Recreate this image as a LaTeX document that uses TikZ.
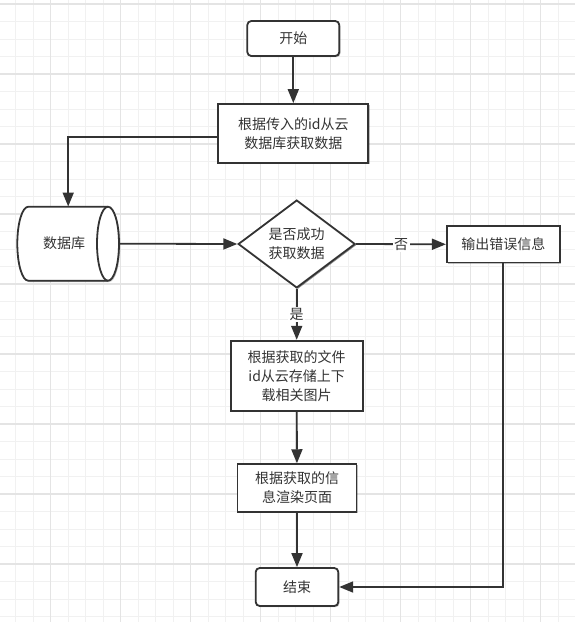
\documentclass[tikz,border=0pt]{standalone}
\usepackage{fontspec}
\setmainfont{Noto Sans CJK SC}
\usetikzlibrary{shapes.geometric,arrows.meta,shadows}
\definecolor{gridminor}{HTML}{F1F1F1}
\definecolor{gridmajor}{HTML}{E4E4E4}
\definecolor{ink}{HTML}{333333}
\tikzset{
  box/.style={draw=ink, line width=1.8pt, fill=white, inner sep=0pt, align=center,
    text=ink, font=\fontsize{14pt}{19pt}\selectfont,
    drop shadow={shadow xshift=1.2pt, shadow yshift=-1.2pt, fill=black, opacity=0.25}},
  term/.style={box, rounded corners=4pt},
  decision/.style={box, shape=diamond, drop shadow={shadow xshift=1.2pt, shadow yshift=-1.2pt, fill=black, opacity=0.25}},
  conn/.style={draw=ink, line width=1.8pt, -{Triangle[length=14pt,width=11pt]}},
  plainline/.style={draw=ink, line width=1.8pt},
  lbl/.style={fill=white, inner sep=1.5pt, text=ink, font=\fontsize{14pt}{19pt}\selectfont},
}
\begin{document}
\begin{tikzpicture}[x=1pt,y=-1pt]
\useasboundingbox (0,0) rectangle (575,622);
\fill[white] (0,0) rectangle (575,622);
% grid
\foreach \i in {0,...,33} {
  \draw[gridminor, line width=1pt] ({15.7+17.5*\i},0) -- ({15.7+17.5*\i},622);
}
\foreach \i in {0,...,35} {
  \draw[gridminor, line width=1pt] (0,{4+17.5*\i}) -- (575,{4+17.5*\i});
}
\foreach \i in {0,...,7} {
  \draw[gridmajor, line width=1.2pt] ({50.7+70*\i},0) -- ({50.7+70*\i},622);
}
\foreach \i in {0,...,8} {
  \draw[gridmajor, line width=1.2pt] (0,{4+70*\i}) -- (575,{4+70*\i});
}

% nodes
\node[term, minimum width=92pt, minimum height=35pt] (start) at (293.3,38.5) {开始};
\node[box, minimum width=150pt, minimum height=59pt] (b1) at (293.3,133.5) {根据传入的id从云\\数据库获取数据};

% database cylinder
\fill[black, opacity=0.25] (29.5,208) arc[start angle=90, end angle=270, x radius=11pt, y radius=37pt]
  -- (109.2,282) arc[start angle=270, end angle=450, x radius=11pt, y radius=37pt] -- cycle;
\filldraw[draw=ink, fill=white, line width=1.8pt] (28.3,206.7) arc[start angle=90, end angle=270, x radius=11pt, y radius=37pt]
  -- (108,280.7) arc[start angle=270, end angle=450, x radius=11pt, y radius=37pt] -- cycle;
\draw[draw=ink, line width=1.8pt] (108,206.7) arc[start angle=90, end angle=270, x radius=11pt, y radius=37pt];
\node[inner sep=0pt, minimum width=102pt, minimum height=74pt, text=ink, font=\fontsize{14pt}{19pt}\selectfont] (db) at (68.2,243.7) {\hspace*{-8pt}数据库};

\node[decision, minimum width=117pt, minimum height=78pt] (dec) at (296.7,244) {是否成功\\获取数据};
\node[box, minimum width=113pt, minimum height=36.5pt] (err) at (503.3,244.3) {输出错误信息};
\node[box, minimum width=132pt, minimum height=70pt] (b3) at (296.7,375.7) {根据获取的文件\\id从云存储上下\\载相关图片};
\node[box, minimum width=119pt, minimum height=47.7pt] (b4) at (297,488) {根据获取的信\\息渲染页面};
\node[term, minimum width=82.6pt, minimum height=38pt] (end) at (297,587) {结束};

% connectors
\draw[conn] (start) -- (b1);
\draw[conn] ([yshift=-3.2pt]b1.west) -| (db.north);
\draw[conn] (db.east) -- (dec.west);
\draw[conn] (dec.east) -- node[lbl] {否} (err.west);
\draw[conn] (dec.south) -- node[lbl] {是} (b3.north);
\draw[conn] (b3) -- (b4);
\draw[conn] (b4) -- (end);
\draw[conn] (err.south) |- (end.east);
\end{tikzpicture}
\end{document}
